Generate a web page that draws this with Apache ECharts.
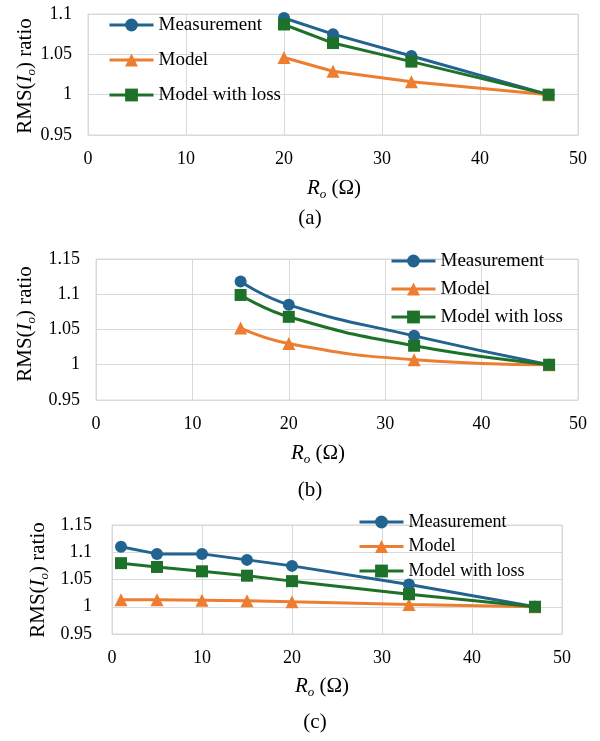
<!DOCTYPE html>
<html>
<head>
<meta charset="utf-8">
<script src="https://cdn.jsdelivr.net/npm/echarts@6/dist/echarts.min.js"></script>
<style>
    html, body { margin: 0; padding: 0; background: #fff; }
    #chart { width: 600px; height: 741px; }
</style>
</head>
<body>
<div id="chart"></div>
<script>
// (a)
var rA = [20, 25, 33, 47];
var measA = [1.095, 1.075, 1.048, 1.0];
var modelA = [1.046, 1.029, 1.016, 1.0];
var lossA = [1.087, 1.064, 1.041, 1.0];
// (b)
var rB = [15, 20, 33, 47];
var measB = [1.118, 1.085, 1.041, 1.0];
var modelB = [1.052, 1.030, 1.007, 1.0];
var lossB = [1.099, 1.068, 1.027, 1.0];
// (c)
var rC = [1, 5, 10, 15, 20, 33, 47];
var measC = [1.110, 1.097, 1.097, 1.086, 1.075, 1.041, 1.0];
var modelC = [1.013, 1.013, 1.012, 1.011, 1.009, 1.004, 1.0];
var lossC = [1.080, 1.073, 1.065, 1.057, 1.047, 1.023, 1.0];

var names = ['Measurement', 'Model', 'Model with loss'];
var yTicks = [0.95, 1.15]; // min / max of (b),(c); (a) stops at 1.1
var captions = ['(a)', '(b)', '(c)'];

var F = 'Liberation Serif';
var GRAY = '#D9D9D9';
var styles = [
    {color: '#23638F', symbol: 'circle', size: 12},
    {color: '#ED7D31', symbol: 'triangle', size: 13},
    {color: '#1E7129', symbol: 'rect', size: 12}
];

function pairs(xs, ys) {
    return xs.map(function (x, i) { return [x, ys[i]]; });
}

function xAxis(idx) {
    return {
        type: 'value', gridIndex: idx, min: 0, max: 50, interval: 10,
        axisLine: {show: true, lineStyle: {color: GRAY, width: 1}},
        axisTick: {show: false},
        splitLine: {lineStyle: {color: GRAY, width: 1}},
        axisLabel: {fontFamily: F, fontSize: 18, color: '#000', margin: 15}
    };
}

function yAxis(idx, max, margin) {
    return {
        type: 'value', gridIndex: idx, min: 0.95, max: max, interval: 0.05,
        axisLine: {show: false},
        axisTick: {show: false},
        splitLine: {lineStyle: {color: GRAY, width: 1}},
        axisLabel: {
            fontFamily: F, fontSize: 18, color: '#000', margin: margin,
            formatter: function (v) { return String(+v.toFixed(2)); }
        }
    };
}

function series(idx, xs, ys, k, smooth) {
    var s = styles[k];
    return {
        name: names[k], type: 'line', xAxisIndex: idx, yAxisIndex: idx,
        data: pairs(xs, ys), smooth: smooth,
        symbol: s.symbol, symbolSize: s.size,
        lineStyle: {color: s.color, width: 3},
        itemStyle: {color: s.color},
        z: 2 + k
    };
}

function legend(left, top, gap, fs) {
    return {
        orient: 'vertical', left: left, top: top,
        itemWidth: 44, itemHeight: 16, itemGap: gap,
        lineStyle: {width: 3},
        textStyle: {fontFamily: F, fontSize: fs, color: '#000', lineHeight: 20},
        data: names
    };
}

var rich = {
    n: {fontFamily: F, fontSize: 21, color: '#000', lineHeight: 26},
    i: {fontFamily: F, fontSize: 21, color: '#000', fontStyle: 'italic', lineHeight: 26},
    s: {fontFamily: F, fontSize: 13, color: '#000', fontStyle: 'italic', verticalAlign: 'bottom', lineHeight: 13}
};

function yTitle(x, y) {
    return {
        type: 'text', x: x, y: y, rotation: Math.PI / 2,
        style: {text: '{n|RMS(}{i|I}{s|o}{n|) ratio}', rich: rich, align: 'center', verticalAlign: 'middle'}
    };
}

function xTitle(x, y) {
    return {
        type: 'text', x: x, y: y,
        style: {text: '{i|R}{s|o}{n| (Ω)}', rich: rich, align: 'center', verticalAlign: 'middle'}
    };
}

function caption(x, y, t) {
    return {
        type: 'text', x: x, y: y,
        style: {text: t, fontFamily: F, fontSize: 21, fill: '#000', align: 'center', verticalAlign: 'middle'}
    };
}

var myChart = echarts.init(document.getElementById('chart'), null, {renderer: 'canvas'});

option = {
    backgroundColor: '#fff',
    animation: false,
    grid: [
        {left: 88, top: 14, width: 490, height: 121, show: true, borderColor: GRAY, borderWidth: 1},
        {left: 96, top: 259, width: 482, height: 141, show: true, borderColor: GRAY, borderWidth: 1},
        {left: 112, top: 525, width: 450, height: 109, show: true, borderColor: GRAY, borderWidth: 1}
    ],
    xAxis: [xAxis(0), xAxis(1), xAxis(2)],
    yAxis: [yAxis(0, 1.1, 16), yAxis(1, yTicks[1], 16), yAxis(2, yTicks[1], 20)],
    legend: [
        legend(103, 10, 15, 19),
        legend(385, 246, 8, 19),
        legend(353, 507, 4.5, 18)
    ],
    series: [
        series(0, rA, measA, 0, false),
        series(0, rA, modelA, 1, false),
        series(0, rA, lossA, 2, false),
        series(1, rB, measB, 0, true),
        series(1, rB, modelB, 1, true),
        series(1, rB, lossB, 2, true),
        series(2, rC, measC, 0, false),
        series(2, rC, modelC, 1, false),
        series(2, rC, lossC, 2, false)
    ],
    graphic: [
        yTitle(25, 76), xTitle(334, 188), caption(310, 218, captions[0]),
        yTitle(25, 324), xTitle(318, 453), caption(310, 490, captions[1]),
        yTitle(38, 580), xTitle(322, 686), caption(315, 722, captions[2])
    ]
};

myChart.setOption(option);
</script>
</body>
</html>
